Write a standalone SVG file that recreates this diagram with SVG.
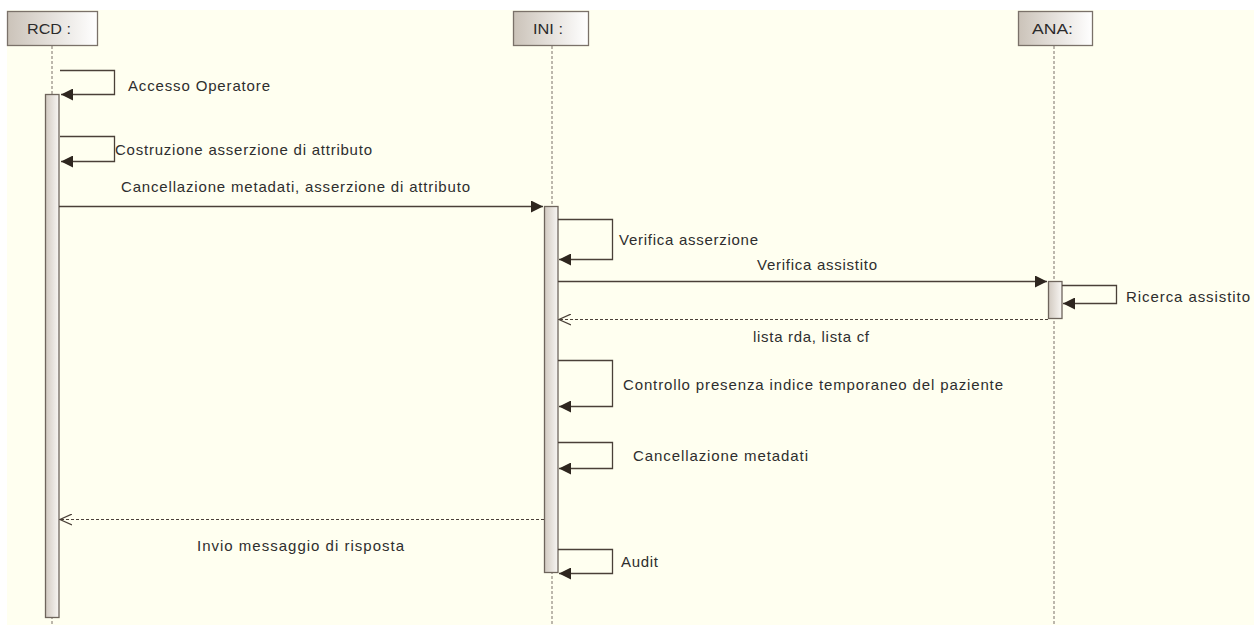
<svg xmlns="http://www.w3.org/2000/svg" width="1254" height="625" viewBox="0 0 1254 625">
<defs>
<linearGradient id="hdr" x1="0" y1="0" x2="1" y2="0">
<stop offset="0" stop-color="#cbc3b9"/>
<stop offset="1" stop-color="#ffffff"/>
</linearGradient>
<linearGradient id="act" x1="0" y1="0" x2="1" y2="0">
<stop offset="0" stop-color="#d2cac1"/>
<stop offset="1" stop-color="#f8f6f3"/>
</linearGradient>
<marker id="fill" viewBox="0 0 12 12" refX="12" refY="6" markerWidth="12" markerHeight="12" markerUnits="userSpaceOnUse" orient="auto">
<path d="M0,0 L12,6 L0,12 Z" fill="#2e261f"/>
</marker>
<marker id="open" viewBox="0 0 13 12" refX="12" refY="6" markerWidth="13" markerHeight="12" markerUnits="userSpaceOnUse" orient="auto">
<path d="M0,0.5 L12,6 L0,11.5" fill="none" stroke="#4a4038" stroke-width="1.2"/>
</marker>
</defs>
<style>
.hbox{fill:url(#hdr);stroke:#7a7169;stroke-width:1.3}
.bar{fill:url(#act);stroke:#6e655c;stroke-width:1.3}
.life{stroke:#7a7169;stroke-width:1;stroke-dasharray:3,2;fill:none}
.msg{stroke:#4a4038;stroke-width:1.3;fill:none}
.ret{stroke:#4a4038;stroke-width:1.1;stroke-dasharray:3,2;fill:none}
text{font-family:"Liberation Sans",Arial,sans-serif;font-size:15px;fill:#2e2e2e}
.h{font-size:15px;fill:#2b2b2b}
</style>
<rect x="7" y="10" width="1247" height="615" fill="#fffff0"/>
<g id="RCD">
<line class="life" x1="52" y1="46" x2="52" y2="625"/>
<rect class="hbox" x="7.5" y="11.5" width="90" height="34"/>
<text class="h" x="27" y="34" textLength="44" lengthAdjust="spacingAndGlyphs">RCD :</text>
<rect class="bar" x="45.5" y="94.5" width="13.5" height="523"/>
</g>
<g id="INI">
<line class="life" x1="552" y1="46" x2="552" y2="625"/>
<rect class="hbox" x="513.5" y="11.5" width="75" height="34"/>
<text class="h" x="533" y="34" textLength="30" lengthAdjust="spacingAndGlyphs">INI :</text>
<rect class="bar" x="544.5" y="206.5" width="13.5" height="366"/>
</g>
<g id="ANA">
<line class="life" x1="1054" y1="46" x2="1054" y2="625"/>
<rect class="hbox" x="1018.5" y="11.5" width="74" height="34"/>
<text class="h" x="1032" y="34" textLength="41" lengthAdjust="spacingAndGlyphs">ANA:</text>
<rect class="bar" x="1048.5" y="281.5" width="13.5" height="37"/>
</g>
<g id="connectors">
<path class="msg" d="M60,70.5 H114.5 V94.5 H61" marker-end="url(#fill)"/>
<path class="msg" d="M60,136.5 H114.5 V161.5 H61" marker-end="url(#fill)"/>
<path class="msg" d="M59,206.5 H543" marker-end="url(#fill)"/>
<path class="msg" d="M558,219.5 H612.5 V259.5 H559" marker-end="url(#fill)"/>
<path class="msg" d="M558,281.5 H1047" marker-end="url(#fill)"/>
<path class="msg" d="M1062,285.5 H1116.5 V303.5 H1063" marker-end="url(#fill)"/>
<path class="ret" d="M1048,319.5 H559" marker-end="url(#open)"/>
<path class="msg" d="M558,360.5 H612.5 V406.5 H559" marker-end="url(#fill)"/>
<path class="msg" d="M558,442.5 H612.5 V468.5 H559" marker-end="url(#fill)"/>
<path class="ret" d="M544,519.5 H60" marker-end="url(#open)"/>
<path class="msg" d="M558,549.5 H612.5 V573.5 H559" marker-end="url(#fill)"/>
</g>
<g id="labels">
<text x="128" y="91" textLength="142" lengthAdjust="spacing">Accesso Operatore</text>
<text x="115" y="155" textLength="257" lengthAdjust="spacing">Costruzione asserzione di attributo</text>
<text x="121" y="192" textLength="349" lengthAdjust="spacing">Cancellazione metadati, asserzione di attributo</text>
<text x="619" y="245" textLength="139" lengthAdjust="spacing">Verifica asserzione</text>
<text x="757" y="270" textLength="120" lengthAdjust="spacing">Verifica assistito</text>
<text x="1126" y="302" textLength="124" lengthAdjust="spacing">Ricerca assistito</text>
<text x="753" y="342" textLength="116" lengthAdjust="spacing">lista rda, lista cf</text>
<text x="623" y="390" textLength="380" lengthAdjust="spacing">Controllo presenza indice temporaneo del paziente</text>
<text x="633" y="461" textLength="175" lengthAdjust="spacing">Cancellazione metadati</text>
<text x="197" y="551" textLength="207" lengthAdjust="spacing">Invio messaggio di risposta</text>
<text x="621" y="567" textLength="37" lengthAdjust="spacing">Audit</text>
</g>
</svg>
